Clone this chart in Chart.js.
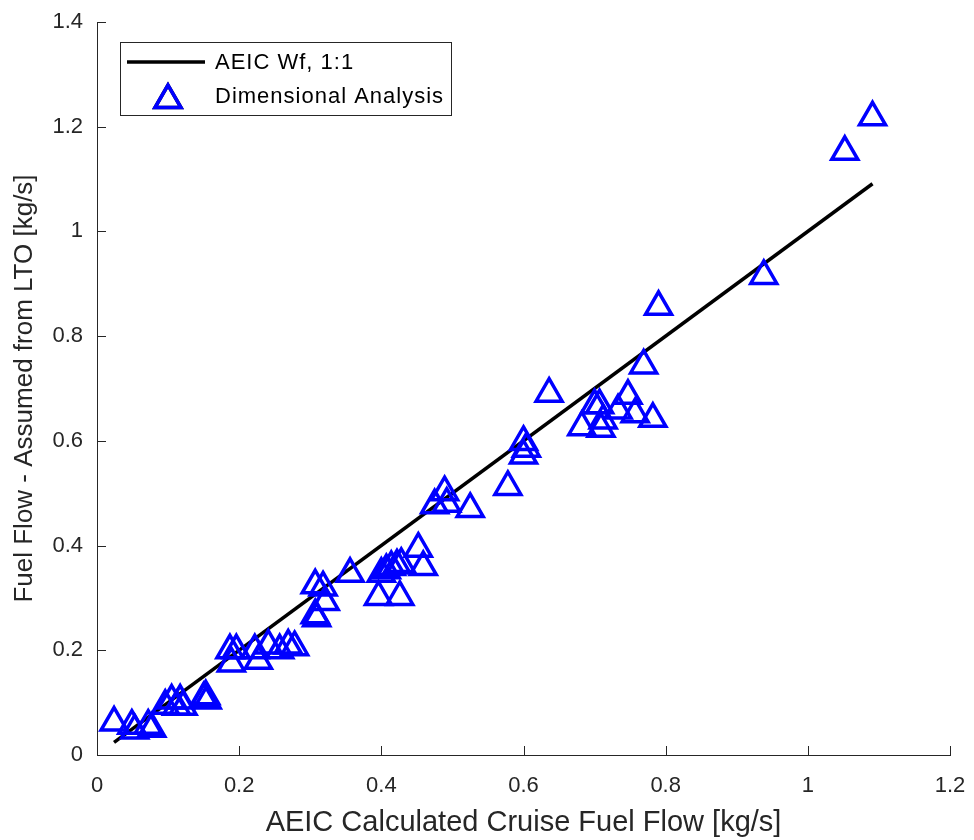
<!DOCTYPE html>
<html>
<head>
<meta charset="utf-8">
<title>AEIC Fuel Flow</title>
<script src="https://cdn.jsdelivr.net/npm/chart.js@4.4.1/dist/chart.umd.min.js"></script>
<style>
  html, body { margin: 0; padding: 0; background: #fff; }
  #wrap { width: 974px; height: 840px; position: relative; }
</style>
</head>
<body>
<div id="wrap"><canvas id="fuelChart"></canvas></div>
<script>
// Data
var cruiseFF = [0.024, 0.049, 0.053, 0.072, 0.077, 0.096, 0.105, 0.117, 0.112, 0.121,
                0.150, 0.153, 0.155, 0.187, 0.196, 0.189, 0.222, 0.227, 0.241, 0.257,
                0.269, 0.278, 0.307, 0.318, 0.321, 0.307, 0.309, 0.356, 0.400, 0.407,
                0.414, 0.422, 0.428, 0.452, 0.459, 0.396, 0.426, 0.489, 0.492, 0.475,
                0.525, 0.578, 0.600, 0.604, 0.600, 0.636, 0.747, 0.707, 0.700, 0.733,
                0.757, 0.782, 0.682, 0.709, 0.712, 0.769, 0.790, 0.938, 1.052, 1.091];
var ltoFF    = [0.062, 0.056, 0.047, 0.056, 0.050, 0.094, 0.104, 0.104, 0.092, 0.092,
                0.108, 0.112, 0.104, 0.200, 0.200, 0.175, 0.200, 0.180, 0.209, 0.200,
                0.209, 0.206, 0.324, 0.320, 0.292, 0.267, 0.261, 0.346, 0.346, 0.353,
                0.359, 0.362, 0.365, 0.394, 0.359, 0.302, 0.302, 0.502, 0.480, 0.477,
                0.470, 0.512, 0.598, 0.585, 0.572, 0.690, 0.686, 0.668, 0.668, 0.658,
                0.651, 0.642, 0.626, 0.623, 0.639, 0.744, 0.856, 0.915, 1.152, 1.218];
var xTicks = [0, 0.2, 0.4, 0.6, 0.8, 1, 1.2];
var yTicks = [0, 0.2, 0.4, 0.6, 0.8, 1, 1.2, 1.4];
var seriesNames = ["AEIC Wf, 1:1", "Dimensional Analysis"];

var FONT = "'Liberation Sans', Arial, Helvetica, sans-serif";
var AXIS_COLOR = '#262626';

// Build points
var scatterPts = [];
for (var i = 0; i < cruiseFF.length; i++) {
    scatterPts.push({ x: cruiseFF[i], y: ltoFF[i] });
}
var xMin = Math.min.apply(null, cruiseFF);
var xMax = Math.max.apply(null, cruiseFF);
var onePts = [{ x: xMin, y: xMin }, { x: xMax, y: xMax }];

// plain labels : 0, 0.2, ... 1, 1.2
function tickLabel(v) {
    return String(Math.round(v * 10) / 10);
}

/* Inward ticks, matlab style */
var inwardTicks = {
    id: 'inwardTicks',
    afterDraw: function (chart) {
        var ctx = chart.ctx;
        var xs = chart.scales.x, ys = chart.scales.y;
        var area = chart.chartArea;
        ctx.save();
        ctx.strokeStyle = AXIS_COLOR;
        ctx.lineWidth = 1;
        ctx.beginPath();
        xTicks.forEach(function (v) {
            var px = Math.round(xs.getPixelForValue(v)) + 0.5;
            ctx.moveTo(px, area.bottom);
            ctx.lineTo(px, area.bottom - 9);
        });
        yTicks.forEach(function (v) {
            var py = Math.round(ys.getPixelForValue(v)) + 0.5;
            ctx.moveTo(area.left, py);
            ctx.lineTo(area.left + 9, py);
        });
        ctx.stroke();
        ctx.restore();
    }
};

/* Legend box in the top left corner */
var boxLegend = {
    id: 'boxLegend',
    afterDraw: function (chart) {
        var ctx = chart.ctx;
        var bx = 120, by = 42, bw = 331, bh = 73;
        ctx.save();
        ctx.fillStyle = '#fff';
        ctx.fillRect(bx, by, bw, bh);
        ctx.strokeStyle = AXIS_COLOR;
        ctx.lineWidth = 1;
        ctx.strokeRect(bx + 0.5, by + 0.5, bw, bh);

        // line sample
        ctx.strokeStyle = '#000';
        ctx.lineWidth = 3.5;
        ctx.beginPath();
        ctx.moveTo(127, 62);
        ctx.lineTo(205, 62);
        ctx.stroke();

        // marker sample
        Chart.helpers.drawPoint(ctx, {
            pointStyle: 'triangle', radius: 15, rotation: 0, borderWidth: 3.5
        }, 168, 100);
        ctx.strokeStyle = '#0000ff';
        ctx.lineWidth = 3.5;
        ctx.stroke();

        ctx.fillStyle = '#000';
        ctx.font = '22px ' + FONT;
        ctx.textBaseline = 'middle';
        ctx.textAlign = 'left';
        ctx.letterSpacing = '1px';
        ctx.fillText(seriesNames[0], 215, 63);
        ctx.fillText(seriesNames[1], 215, 97);
        ctx.letterSpacing = '0px';
        ctx.restore();
    }
};

var ctx = document.getElementById("fuelChart");
var myChart = new Chart(ctx, {
    type: 'scatter',
    data: {
        datasets: [{
            label: seriesNames[0],
            type: 'line',
            data: onePts,
            borderColor: '#000',
            borderWidth: 3.5,
            pointRadius: 0,
            fill: false,
            order: 1
        }, {
            label: seriesNames[1],
            data: scatterPts,
            pointStyle: 'triangle',
            pointRadius: 15,
            pointHoverRadius: 15,
            pointBorderWidth: 3.5,
            borderColor: '#0000ff',
            backgroundColor: 'rgba(0,0,0,0)',
            order: 0
        }]
    },
    options: {
        responsive: true,
        maintainAspectRatio: false,
        animation: false,
        layout: {
            padding: { left: 9, right: 24, top: 22, bottom: 0 }
        },
        scales: {
            x: {
                type: 'linear',
                min: 0,
                max: 1.2,
                afterBuildTicks: function (s) {
                    s.ticks = xTicks.map(function (v) { return { value: v }; });
                },
                afterFit: function (s) {
                    s.height = 85;
                    s.paddingLeft = 0;
                    s.paddingRight = 0;
                },
                grid: { display: false, drawTicks: false },
                border: { display: true, color: AXIS_COLOR, width: 1 },
                ticks: {
                    color: AXIS_COLOR,
                    padding: 18,
                    maxRotation: 0,
                    callback: tickLabel,
                    font: { family: FONT, size: 22 }
                },
                title: {
                    display: true,
                    text: 'AEIC Calculated Cruise Fuel Flow [kg/s]',
                    color: AXIS_COLOR,
                    font: { family: FONT, size: 29 },
                    padding: { top: 0, bottom: 0 }
                }
            },
            y: {
                type: 'linear',
                min: 0,
                max: 1.4,
                afterBuildTicks: function (s) {
                    s.ticks = yTicks.map(function (v) { return { value: v }; });
                },
                afterFit: function (s) {
                    s.width = 88;
                    s.paddingTop = 0;
                    s.paddingBottom = 0;
                },
                grid: { display: false, drawTicks: false },
                border: { display: true, color: AXIS_COLOR, width: 1 },
                ticks: {
                    color: AXIS_COLOR,
                    padding: 14,
                    callback: tickLabel,
                    font: { family: FONT, size: 22 }
                },
                title: {
                    display: true,
                    text: 'Fuel Flow - Assumed from LTO [kg/s]',
                    color: AXIS_COLOR,
                    font: { family: FONT, size: 26 },
                    padding: { top: 0, bottom: 0 }
                }
            }
        },
        plugins: {
            legend: { display: false },
            tooltip: { enabled: false }
        }
    },
    plugins: [inwardTicks, boxLegend]
});
</script>
</body>
</html>
